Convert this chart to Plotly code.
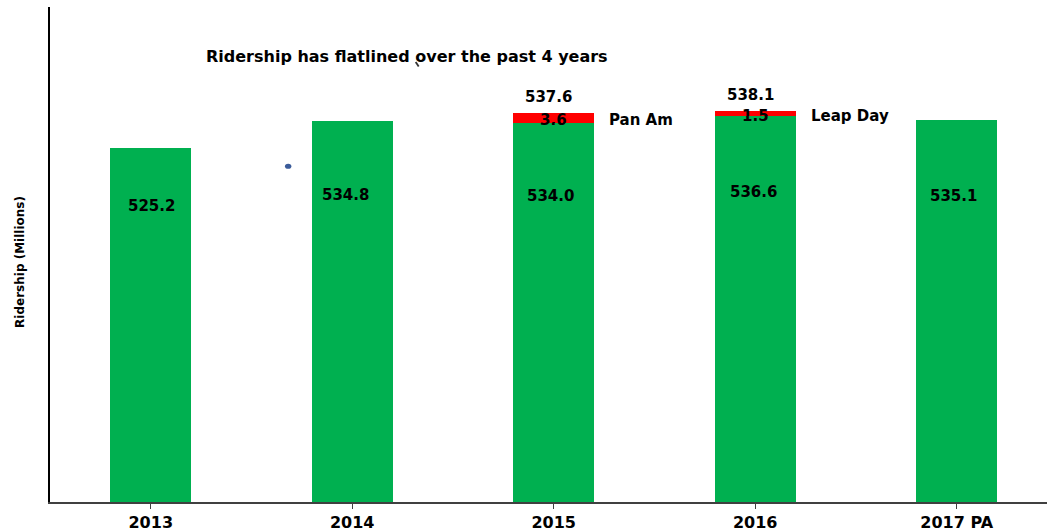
import plotly.graph_objects as go

# Annual ridership (millions) with one-off events stacked on top
years = ["2013", "2014", "2015", "2016", "2017 PA"]
base_ridership = [525.2, 534.8, 534.0, 536.6, 535.1]
event_ridership = [0.0, 0.0, 3.6, 1.5, 0.0]
event_names = ["", "", "Pan Am", "Leap Day", ""]

title_text = "Ridership has flatlined over the past 4 years"
y_title = "Ridership (Millions)"

GREEN = "#00B050"
RED = "#FF0000"
FONT = "'DejaVu Sans', Arial, sans-serif"

# placement of the in-bar value labels (pixel offsets from the green top)
inner_label_drop = [58, 74, 73, 76, 76]
inner_label_nudge = [1, -7, -3, -2, -3]

x_idx = list(range(len(years)))

fig = go.Figure()
fig.add_trace(go.Bar(x=x_idx, y=base_ridership, marker_color=GREEN,
                     marker_line_width=0, width=0.4, hoverinfo="skip"))
fig.add_trace(go.Bar(x=x_idx, y=event_ridership, marker_color=RED,
                     marker_line_width=0, width=0.4, hoverinfo="skip"))

annotations = []
for i, (b, e, name) in enumerate(zip(base_ridership, event_ridership, event_names)):
    annotations.append(dict(x=i, y=b, xref="x", yref="y", text=f"<b>{b:.1f}</b>",
                            showarrow=False, yanchor="middle", xanchor="center",
                            yshift=-inner_label_drop[i], xshift=inner_label_nudge[i],
                            font=dict(size=15, color="black", family=FONT)))
    if e > 0:
        total = b + e
        annotations.append(dict(x=i, y=total, xref="x", yref="y",
                                text=f"<b>{total:.1f}</b>", showarrow=False,
                                yanchor="middle", xanchor="center", yshift=16,
                                xshift=-5,
                                font=dict(size=15, color="black", family=FONT)))
        annotations.append(dict(x=i, y=b + e / 2, xref="x", yref="y",
                                text=f"<b>{e:.1f}</b>", showarrow=False,
                                yanchor="middle", xanchor="center", yshift=-2,
                                font=dict(size=15, color="black", family=FONT)))
        annotations.append(dict(x=i + 0.2, y=b + e / 2, xref="x", yref="y",
                                text=f"<b>{name}</b>", showarrow=False,
                                yanchor="middle", xanchor="left", xshift=13,
                                yshift=-2,
                                font=dict(size=15, color="black", family=FONT)))

annotations.append(dict(x=0.3578, y=0.90, xref="paper", yref="paper",
                        text=f"<b>{title_text}</b>", showarrow=False,
                        xanchor="center", yanchor="middle",
                        font=dict(size=16, color="black", family=FONT)))
annotations.append(dict(x=-0.0301, y=0.485, xref="paper", yref="paper",
                        text=f"<b>{y_title}</b>", showarrow=False, textangle=-90,
                        xanchor="center", yanchor="middle",
                        font=dict(size=12, color="black", family=FONT)))

fig.update_layout(
    barmode="stack",
    width=1047, height=531,
    margin=dict(l=50, r=0, t=7, b=29),
    paper_bgcolor="white", plot_bgcolor="white",
    showlegend=False,
    annotations=annotations,
    shapes=[
        # small stray marks drawn on the slide
        dict(type="circle", xref="x", yref="y", x0=0.666, x1=0.698,
             y0=517.8, y1=519.6, fillcolor="#3B5C9A", line_width=0),
        dict(type="line", xref="paper", yref="paper", x0=0.3668, x1=0.3698,
             y0=0.889, y1=0.880, line=dict(color="#333333", width=1.8)),
    ],
)
fig.update_xaxes(
    range=[-0.5, 4.448], tickmode="array", tickvals=x_idx,
    ticktext=[f"<b>{y}</b>" for y in years],
    tickfont=dict(size=16, color="black", family=FONT),
    showline=True, linecolor="#404040", linewidth=1.5,
    ticks="outside", tickson="boundaries", ticklen=5, tickcolor="#404040",
    showgrid=False, zeroline=False, fixedrange=True,
)
fig.update_yaxes(
    range=[400, 575], showticklabels=False, ticks="",
    showline=True, linecolor="black", linewidth=1.5,
    showgrid=False, zeroline=False, fixedrange=True,
)

fig.write_html("out.html", config={"displayModeBar": False})
